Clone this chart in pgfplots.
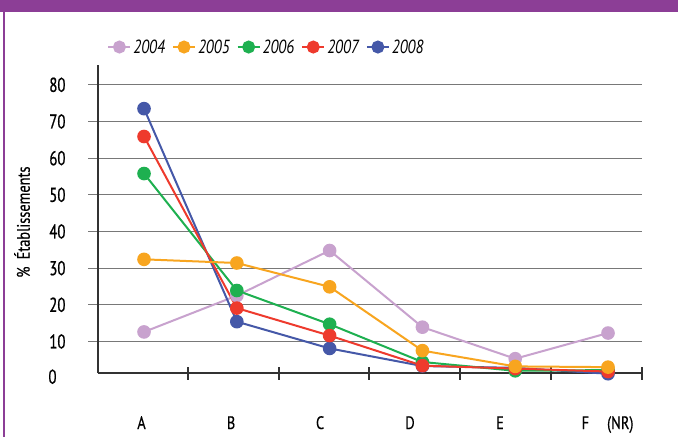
\documentclass[border=0pt]{standalone}
\usepackage{fontspec}
\setmainfont{PT Sans}[FakeStretch=0.74, FakeBold=0.8]
\newfontfamily\labfont{PT Sans}[FakeStretch=0.8, FakeBold=0.4]
\newfontfamily\legfont{PT Sans}[FakeStretch=0.8]
\usepackage{pgfplots}
\pgfplotsset{compat=1.18}

\definecolor{band}{RGB}{140,62,150}
\definecolor{cA}{RGB}{200,162,206}
\definecolor{cB}{RGB}{248,165,31}
\definecolor{cC}{RGB}{30,176,80}
\definecolor{cD}{RGB}{238,58,45}
\definecolor{cE}{RGB}{69,88,168}
\definecolor{gridgray}{RGB}{120,120,120}
\definecolor{axisgray}{RGB}{50,50,50}

\newcommand{\tickfs}{\fontsize{20}{22}\selectfont}

\begin{document}
\begin{tikzpicture}[x=1pt,y=1pt]
% page background and frame
\fill[white] (0,0) rectangle (678,437);
\fill[band] (0,424.5) rectangle (678,437);
\fill[band] (3,0) rectangle (5,424.5);

\begin{axis}[
  at={(98pt,64pt)}, anchor=south west,
  scale only axis, width=544pt, height=308pt,
  xmin=-0.496, xmax=5.366, ymin=1.4, ymax=85.4,
  clip=false,
  /pgf/number format/assume math mode=true,
  axis x line*=bottom, axis y line*=left,
  axis line style={draw=axisgray, line width=1.3pt, -},
  ytick={10,20,...,80},
  ymajorgrids, grid style={draw=gridgray, line width=1.2pt},
  tick align=outside, major tick length=10pt,
  ytick style={draw=gridgray, line width=1.2pt},
  yticklabel style={font=\tickfs, anchor=east, xshift=-19pt},
  xtick={-0.027,0.9375,1.897,2.866,3.836,4.995},
  xticklabels={A,B,C,D,E,F\hspace{1em}(NR)},
  xtick style={draw=none},
  xticklabel style={font=\labfont\fontsize{18}{20}\selectfont, anchor=base, yshift=-46pt},
  extra x ticks={0.474,1.455,2.425,3.405,4.386,5.366},
  extra x tick labels={},
  extra x tick style={xtick style={draw=axisgray, line width=1.3pt}, tick align=center, major tick length=13pt},
  ylabel={\%\hspace{0.4em}Établissements},
  ylabel style={font=\labfont\fontsize{18}{20}\selectfont, at={(axis description cs:-0.1397,0.490)}, anchor=center},
  legend style={at={(0.3097,1.0584)}, anchor=center, draw=none, fill=none,
    font=\legfont\itshape\fontsize{19}{21}\selectfont,
    /tikz/every even column/.append style={column sep=5pt}},
  legend columns=5,
  legend image code/.code={
    \draw[mark repeat=2,mark phase=2,#1] plot coordinates {(0pt,0pt) (11pt,0pt) (22pt,0pt)};
  },
  every axis plot/.append style={line width=2pt, mark=*, mark size=5.8pt,
    mark options={solid}},
]
% legend entries in year order
\addlegendimage{cA, line width=2pt, mark=*, mark size=5.5pt, mark options={fill=cA, draw=cA}}
\addlegendentry{2004}
\addlegendimage{cB, line width=2pt, mark=*, mark size=5.5pt, mark options={fill=cB, draw=cB}}
\addlegendentry{2005}
\addlegendimage{cC, line width=2pt, mark=*, mark size=5.5pt, mark options={fill=cC, draw=cC}}
\addlegendentry{2006}
\addlegendimage{cD, line width=2pt, mark=*, mark size=5.5pt, mark options={fill=cD, draw=cD}}
\addlegendentry{2007}
\addlegendimage{cE, line width=2pt, mark=*, mark size=5.5pt, mark options={fill=cE, draw=cE}}
\addlegendentry{2008}

% 2004
\addplot[cA, mark options={fill=cA, draw=cA}, forget plot] coordinates
  {(0,12.6) (1,22.5) (2,34.8) (3,13.9) (4,5.3) (5,12.3)};
% 2008
\addplot[cE, mark options={fill=cE, draw=cE}, forget plot] coordinates
  {(0,73.5) (1,15.4) (2,8.1) (3,3.3) (4,2.8) (5,1.2)};
% 2006
\addplot[cC, mark options={fill=cC, draw=cC}, forget plot] coordinates
  {(0,55.8) (1,23.9) (2,14.7) (3,4.4) (4,2.0) (5,2.2)};
% 2007
\addplot[cD, mark options={fill=cD, draw=cD}, forget plot] coordinates
  {(0,65.9) (1,19.1) (2,11.6) (3,3.4) (4,2.6) (5,1.8)};
% 2005
\addplot[cB, mark options={fill=cB, draw=cB}, forget plot] coordinates
  {(0,32.4) (1,31.4) (2,24.9) (3,7.5) (4,3.2) (5,3.0)};
\end{axis}

% zero label below the first gridline
\node[font=\tickfs] at (52.5,60.3) {0};
\end{tikzpicture}
\end{document}
